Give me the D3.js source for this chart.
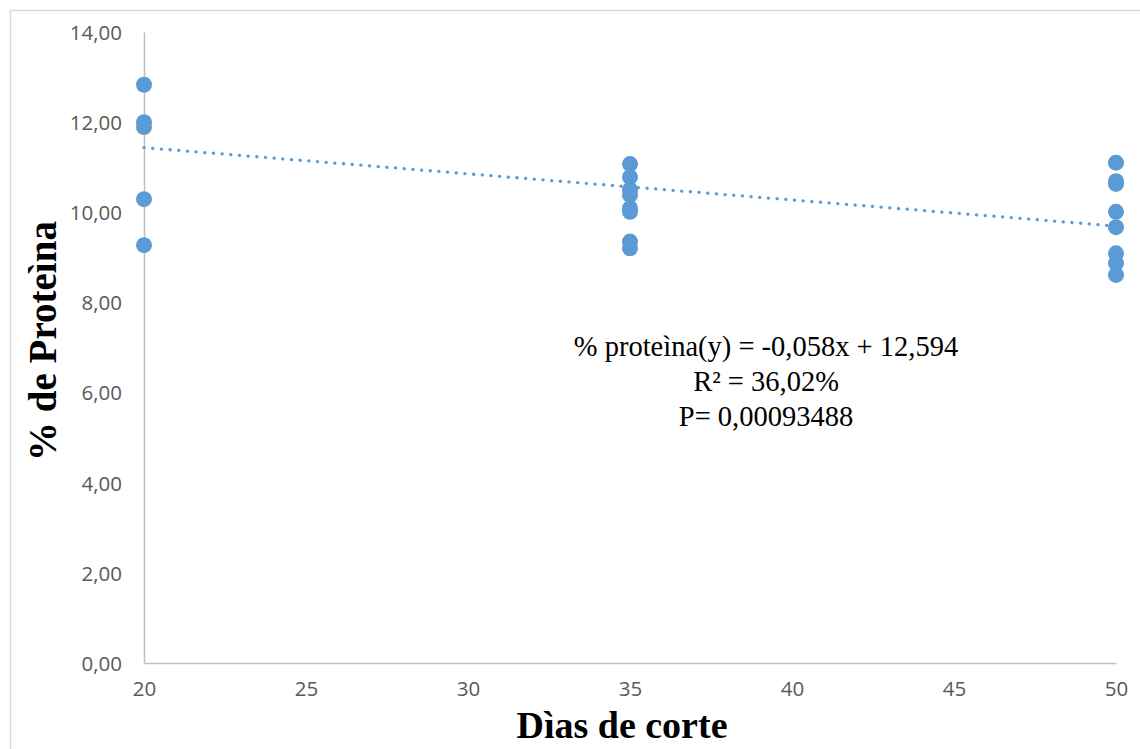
<!DOCTYPE html>
<html>
<head>
<meta charset="utf-8">
<script src="https://cdn.jsdelivr.net/npm/d3@7"></script>
<style>
  html, body { margin: 0; padding: 0; background: #fff; }
  svg { display: block; }
</style>
</head>
<body>
<script>
'use strict';

const dias = [20, 20, 20, 20, 20,
  35, 35, 35, 35, 35, 35, 35, 35,
  50, 50, 50, 50, 50, 50, 50, 50];
const proteina = [12.83, 12.0, 11.89, 10.29, 9.27,
  11.07, 10.78, 10.50, 10.38, 10.09, 10.01, 9.35, 9.20,
  11.10, 10.69, 10.63, 10.01, 9.67, 9.09, 8.87, 8.61];

const xTicks = [20, 25, 30, 35, 40, 45, 50];
const yTicks = [0, 2, 4, 6, 8, 10, 12, 14];

const slope = -0.058;
const intercept = 12.594;

const annotation = [
  '% proteìna(y) = -0,058x + 12,594',
  'R² = 36,02%',
  'P= 0,00093488'
];

const xTitle = 'Dìas de corte';
const yTitle = '% de Proteìna';

const width = 1140;
const height = 749;
const margin = {left: 144, right: 24, top: 32, bottom: 86};
const blue = '#5B9BD5';

const xScale = d3.scaleLinear().domain([20, 50]).range([margin.left, width - margin.right]);
const yScale = d3.scaleLinear().domain([0, 14]).range([height - margin.bottom, margin.top]);

const fmt = d => d3.format('.2f')(d).replace('.', ',');

const svg = d3.select('body').append('svg')
  .attr('width', width)
  .attr('height', height);

// chart frame
svg.append('rect')
  .attr('x', 10.5)
  .attr('y', 10.5)
  .attr('width', width + 20)
  .attr('height', height + 20)
  .attr('fill', '#fff')
  .attr('stroke', '#D9D9D9')
  .attr('stroke-width', 1.5);

const xAxis = svg.append('g')
  .attr('transform', 'translate(0,' + yScale(0) + ')')
  .call(d3.axisBottom(xScale).tickValues(xTicks).tickSize(0).tickPadding(18).tickFormat(d3.format('d')));

const yAxis = svg.append('g')
  .attr('transform', 'translate(' + xScale(20) + ',0)')
  .call(d3.axisLeft(yScale).tickValues(yTicks).tickSize(0).tickPadding(22).tickFormat(fmt));

[xAxis, yAxis].forEach(ax => {
  ax.select('.domain').attr('stroke', '#BFBFBF').attr('stroke-width', 1.5);
  ax.selectAll('text')
    .attr('fill', '#595959')
    .style('font-family', '"Open Sans", sans-serif')
    .style('font-size', '20.5px');
});
yAxis.selectAll('text').attr('dy', '0.36em');
xAxis.selectAll('text').attr('dy', '0.71em');

// trend line
const line = d3.line()
  .x(d => xScale(d))
  .y(d => yScale(slope * d + intercept));

svg.append('path')
  .datum([20, 50])
  .attr('d', line)
  .attr('fill', 'none')
  .attr('stroke', blue)
  .attr('stroke-width', 3.3)
  .attr('stroke-linecap', 'round')
  .attr('stroke-dasharray', '0.1 8.6');

svg.append('g').selectAll('circle')
  .data(dias.map((d, i) => ({x: d, y: proteina[i]})))
  .enter()
  .append('circle')
  .attr('cx', d => xScale(d.x))
  .attr('cy', d => yScale(d.y))
  .attr('r', 8)
  .attr('fill', blue);

// equation box
svg.append('g').selectAll('text')
  .data(annotation)
  .enter()
  .append('text')
  .attr('x', 766)
  .attr('y', (d, i) => 356 + i * 35)
  .attr('text-anchor', 'middle')
  .style('font-family', '"Liberation Serif", "Times New Roman", serif')
  .style('font-size', '28.5px')
  .text(d => d);

svg.append('text')
  .attr('x', 622)
  .attr('y', 738)
  .attr('text-anchor', 'middle')
  .style('font-family', '"Liberation Serif", "Times New Roman", serif')
  .style('font-size', '38px')
  .style('font-weight', 'bold')
  .text(xTitle);

svg.append('text')
  .attr('transform', 'translate(56,341) rotate(-90)')
  .attr('text-anchor', 'middle')
  .style('font-family', '"Liberation Serif", "Times New Roman", serif')
  .style('font-size', '39px')
  .style('font-weight', 'bold')
  .text(yTitle);
</script>
</body>
</html>
